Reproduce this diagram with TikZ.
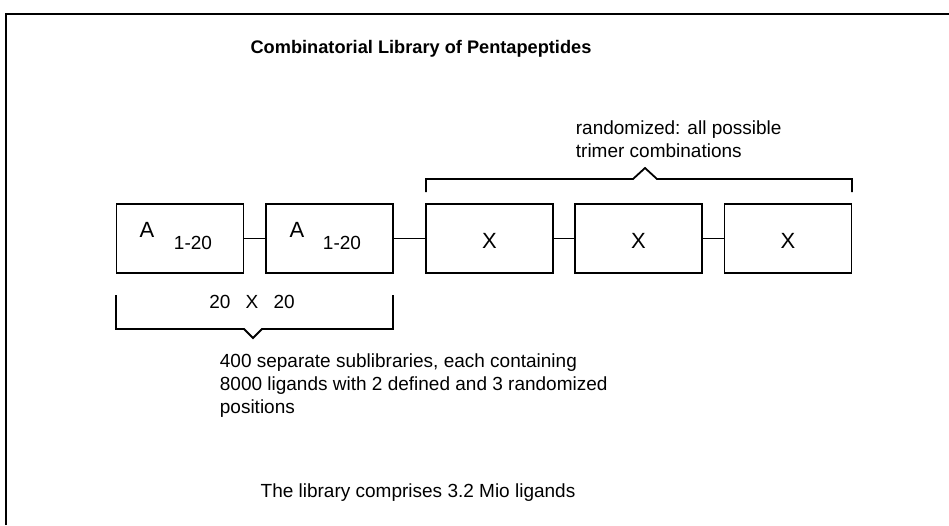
\documentclass[tikz,border=0pt]{standalone}
\usepackage{fontspec}
\setmainfont{Liberation Sans}
\begin{document}
\begin{tikzpicture}[x=1pt,y=-1pt,
  line width=1.8pt,
  stepbox/.style={draw, minimum width=127pt, minimum height=69pt, inner sep=0pt},
  body/.style={font=\fontsize{19}{23.5}\selectfont, align=left, inner sep=0pt},
  big/.style={font=\fontsize{22}{24}\selectfont, inner sep=0pt},
  small/.style={font=\fontsize{19}{20}\selectfont, inner sep=0pt}]
\useasboundingbox (0,0) rectangle (949,525);
\fill[white] (0,0) rectangle (949,525);
% frame (top and left only)
\coordinate (fbl) at (6,525);
\coordinate (ftl) at (6,14);
\coordinate (ftr) at (949,14);
\draw[line width=2pt] (fbl) -- (ftl) -- (ftr);
% title
\node[font=\fontsize{18.2}{20}\selectfont\bfseries, inner sep=0pt, anchor=base] (title) at (421,53) {Combinatorial Library of Pentapeptides};
% boxes
\node[stepbox] (b1) at (180,238.5) {};
\node[stepbox] (b2) at (329.5,238.5) {};
\node[stepbox] (b3) at (489.5,238.5) {};
\node[stepbox] (b4) at (638.5,238.5) {};
\node[stepbox] (b5) at (788,238.5) {};
\node[big] (a1) at (147,230) {A};
\node[small] (s1) at (193,243) {1-20};
\node[big] (a2) at (297,230) {A};
\node[small] (s2) at (342,243) {1-20};
\node[big] (x3) at (489.5,241) {X};
\node[big] (x4) at (638.5,241) {X};
\node[big] (x5) at (788,241) {X};
% connectors
\draw (b1.east) -- (b2.west);
\draw (b2.east) -- (b3.west);
\draw (b3.east) -- (b4.west);
\draw (b4.east) -- (b5.west);
% top bracket
\coordinate (t1) at (426,192);
\coordinate (t2) at (852,192);
\draw (t1) -- (426,179) -- (633,179) -- (645,168) -- (657,179) -- (852,179) -- (t2);
\node[body, anchor=north west] (rtext) at (575,119.5) {randomized: all possible\\trimer combinations};
% bottom bracket
\coordinate (u1) at (116,295);
\coordinate (u2) at (393,295);
\draw (u1) -- (116,329) -- (244,329) -- (253,338) -- (262,329) -- (393,329) -- (u2);
\node[small] (xx) at (252,302) {20\hspace{0.8em}X\hspace{0.8em}20};
\node[body, font=\fontsize{19}{23}\selectfont, anchor=north west] (ltext) at (219,353) {400 separate sublibraries, each containing\\8000 ligands with 2 defined and 3 randomized\\positions};
\node[body, anchor=base] (foot) at (418,497) {The library comprises 3.2 Mio ligands};
\end{tikzpicture}
\end{document}
